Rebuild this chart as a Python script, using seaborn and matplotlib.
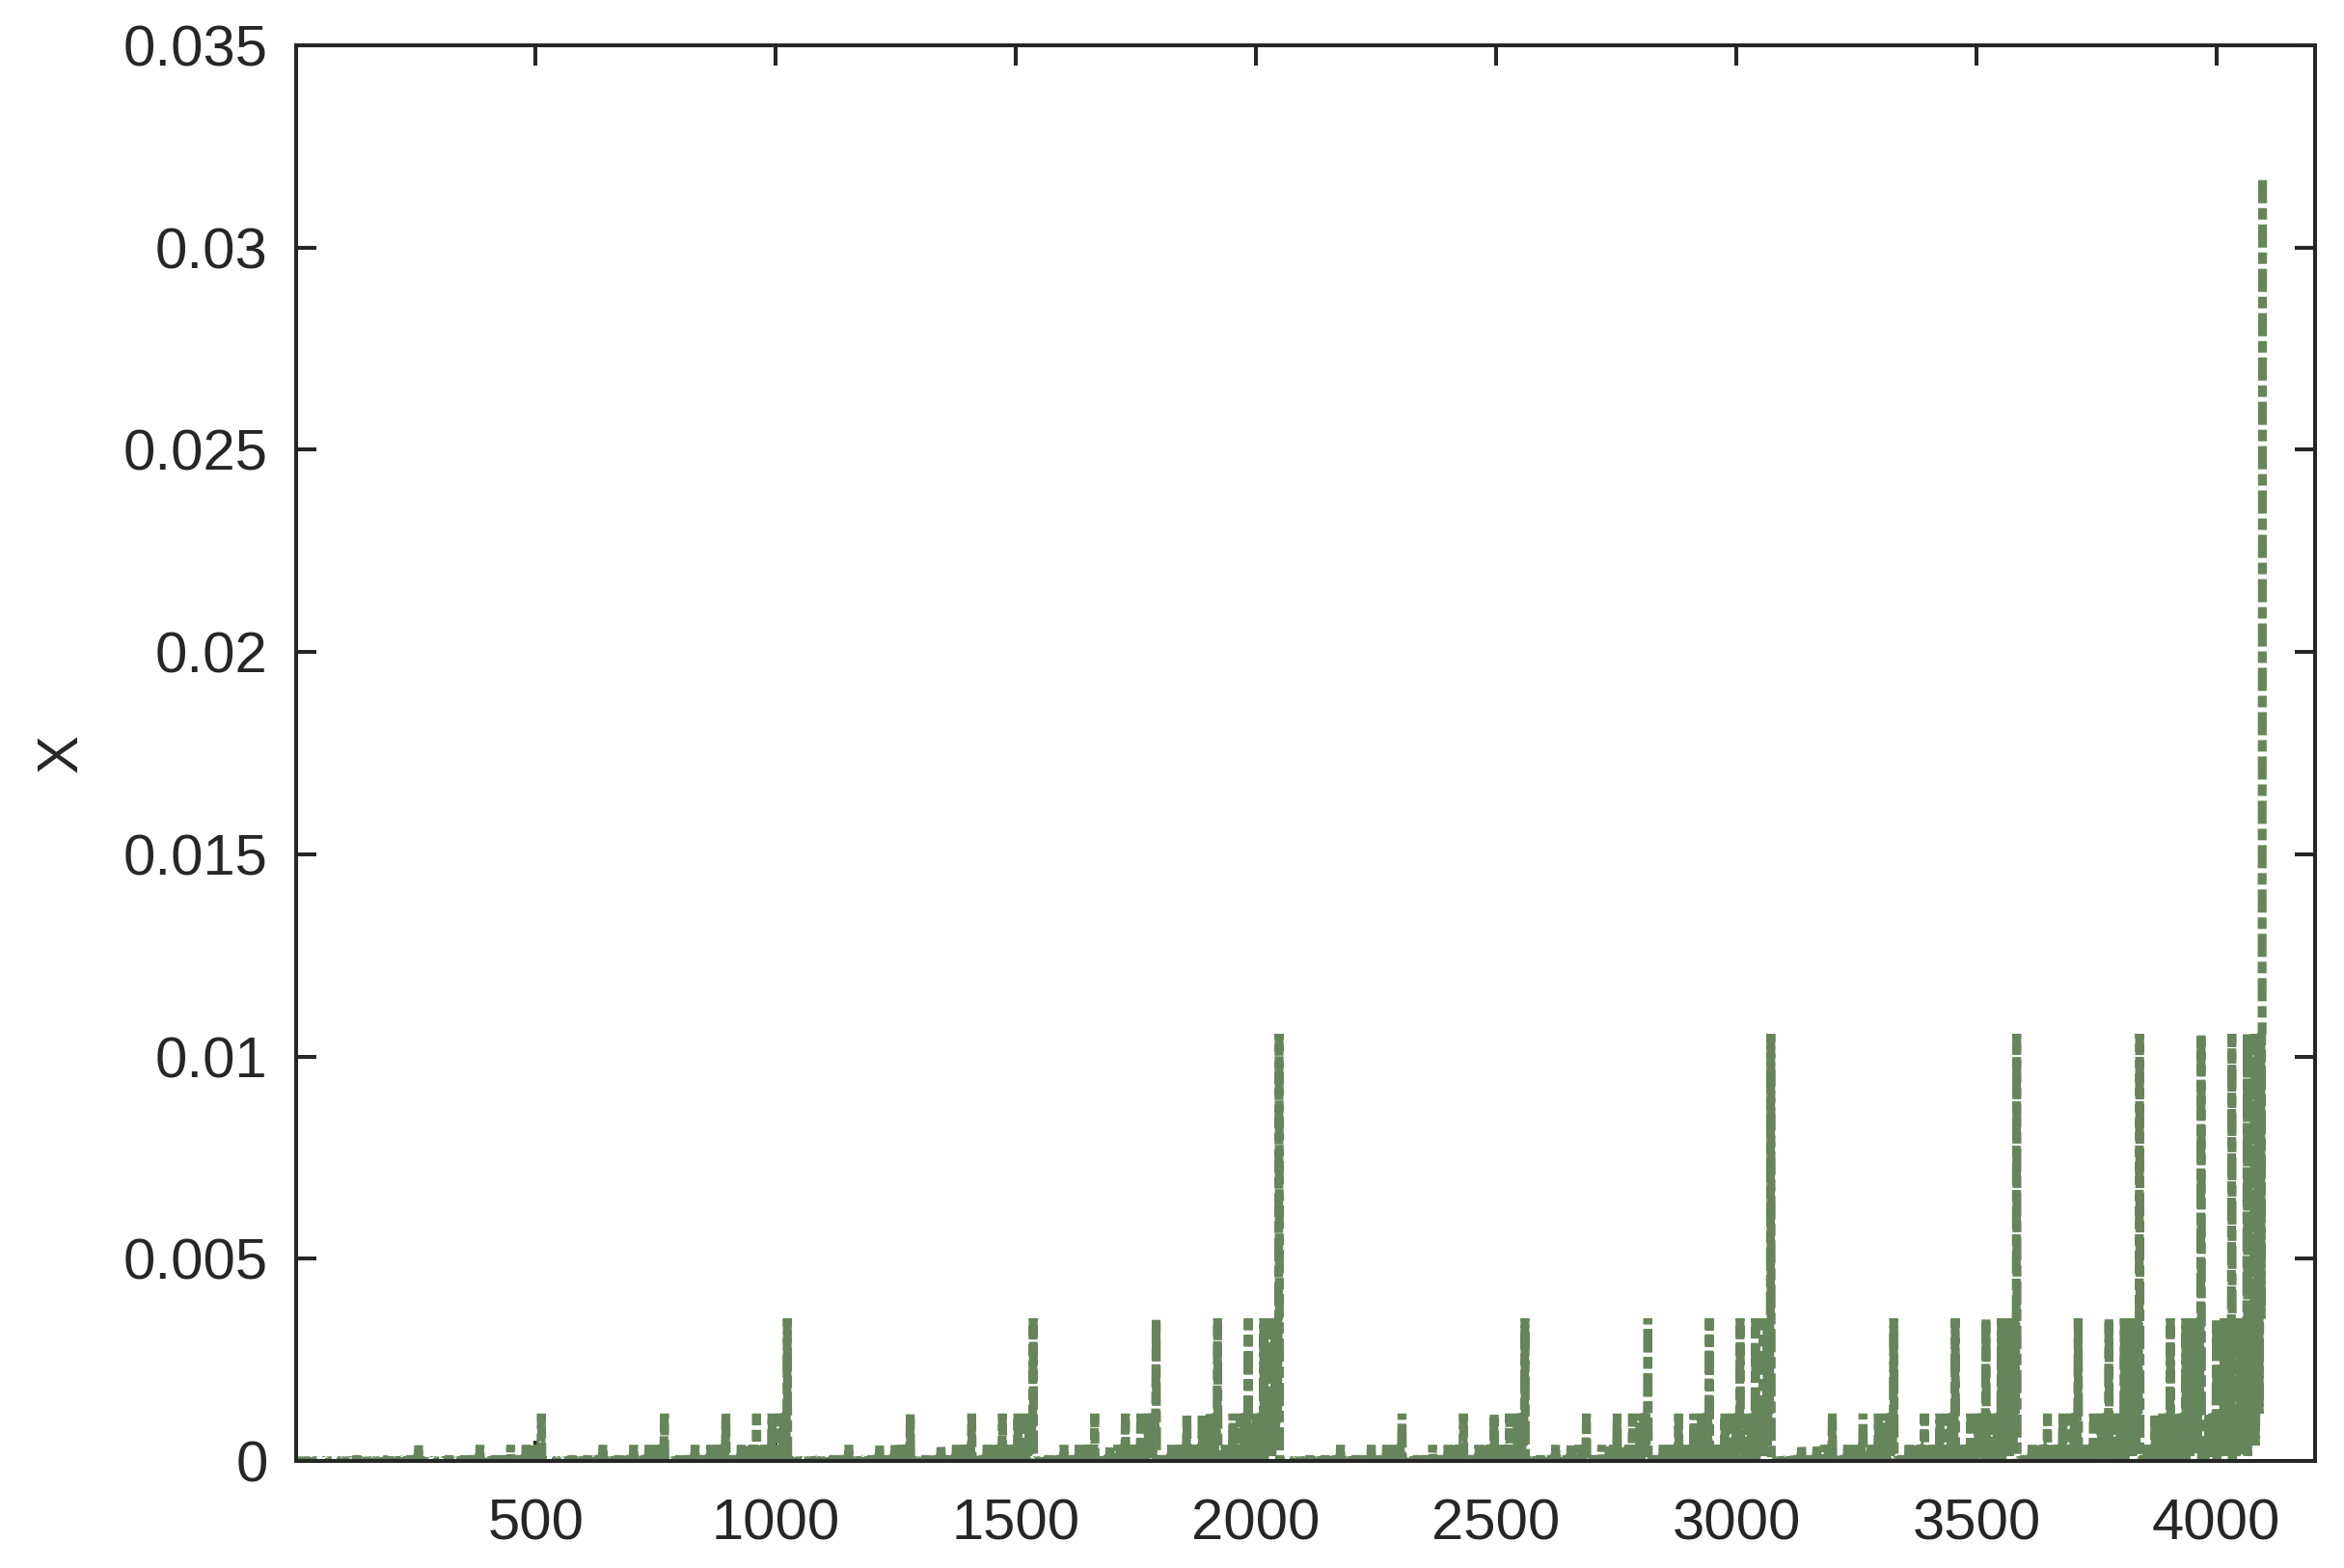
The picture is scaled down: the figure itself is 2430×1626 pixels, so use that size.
import matplotlib
matplotlib.use("Agg")
import matplotlib.pyplot as plt
import seaborn as sns
import numpy as np
import pandas as pd

# probability levels (top spike down to the floor)
level_values = [0.0317, 0.01056, 0.00352, 0.00117, 0.00039, 0.00013,
                4.3e-05, 1.4e-05, 4.8e-06, 1.6e-06, 5.4e-07, 1.8e-07, 6e-08]
n_states = 4096
x_ticks = [500, 1000, 1500, 2000, 2500, 3000, 3500, 4000]
y_ticks = [0, 0.005, 0.01, 0.015, 0.02, 0.025, 0.03, 0.035]
y_tick_labels = ["0", "0.005", "0.01", "0.015", "0.02", "0.025", "0.03", "0.035"]

# each state picks the level given by how many "1" bits its index has
state = np.arange(1, n_states + 1)
ones = [bin(s - 1).count("1") for s in state]
df = pd.DataFrame({"state": state, "X": [level_values[12 - k] for k in ones]})

sns.set_style("ticks")
plt.rcParams["font.family"] = ["Liberation Sans", "DejaVu Sans"]
plt.rcParams["lines.scale_dashes"] = False

fig = plt.figure(figsize=(24.3, 16.26), dpi=100)
ax = fig.add_axes([0.1263, 0.0683, 0.8613, 0.9028])

sns.lineplot(data=df, x="state", y="X", estimator=None, color="#66855a",
             linewidth=6.6, ax=ax)
line = ax.lines[0]
line.set_dashes([17.3, 3.6, 8.6, 3.6])
line.set_dash_capstyle("butt")
line.set_solid_capstyle("butt")
line.set_dash_joinstyle("bevel")
line.set_solid_joinstyle("bevel")

ax.set_xlim(1, 4205)
ax.set_ylim(0, 0.035)
ax.set_xticks(x_ticks)
ax.set_yticks(y_ticks)
ax.set_yticklabels(y_tick_labels)
ax.set_xlabel("")
ax.set_ylabel("X", fontsize=43, color="#262626")
ax.yaxis.set_label_coords(-0.103, 0.5)

for side in ["top", "right", "bottom", "left"]:
    ax.spines[side].set_visible(True)
    ax.spines[side].set_linewidth(2.9)
    ax.spines[side].set_color("#262626")
ax.tick_params(axis="both", which="major", direction="in", length=15, width=2.9,
               top=True, right=True, labelsize=43, colors="#262626")
ax.tick_params(axis="x", pad=28)
ax.tick_params(axis="y", pad=21)

fig.savefig("out.png", dpi=100)
